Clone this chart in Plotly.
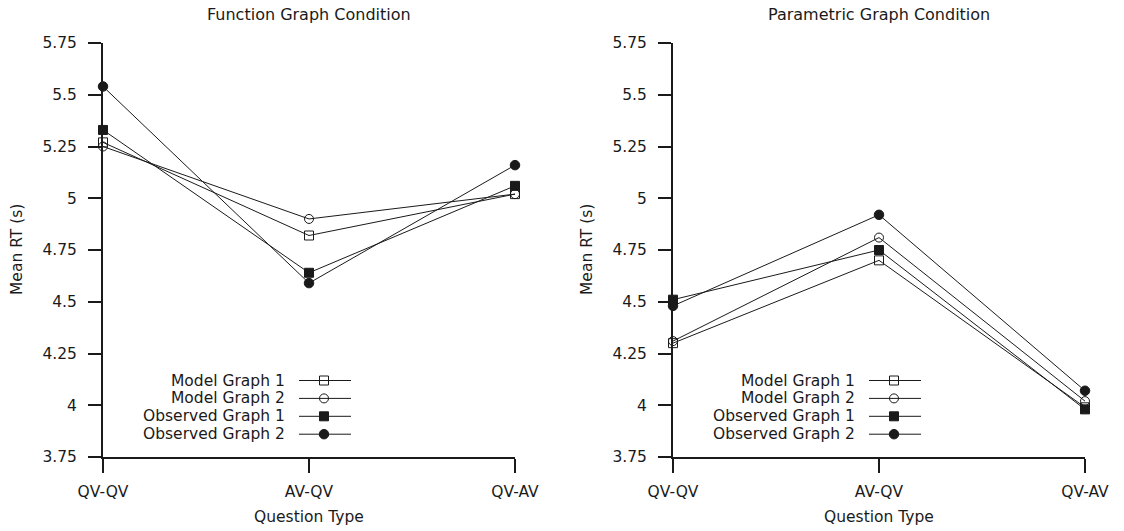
import plotly.graph_objects as go

# ---------------- data ----------------
categories = ["QV-QV", "AV-QV", "QV-AV"]
series_names = ["Model Graph 1", "Model Graph 2", "Observed Graph 1", "Observed Graph 2"]

function_model_1 = [5.27, 4.82, 5.02]
function_model_2 = [5.25, 4.90, 5.02]
function_observed_1 = [5.33, 4.64, 5.06]
function_observed_2 = [5.54, 4.59, 5.16]

parametric_model_1 = [4.30, 4.70, 3.99]
parametric_model_2 = [4.31, 4.81, 4.02]
parametric_observed_1 = [4.51, 4.75, 3.98]
parametric_observed_2 = [4.48, 4.92, 4.07]

y_tick_values = [3.75, 4, 4.25, 4.5, 4.75, 5, 5.25, 5.5, 5.75]
y_tick_labels = ["3.75", "4", "4.25", "4.5", "4.75", "5", "5.25", "5.5", "5.75"]
panel_titles = ["Function Graph Condition", "Parametric Graph Condition"]
x_title = "Question Type"
y_title = "Mean RT (s)"

# ---------------- style ----------------
W, H = 1124, 531
FONT = "DejaVu Sans"
INK = "#1a1a1a"
symbols = ["square-open", "circle-open", "square", "circle"]
fills = ["rgba(0,0,0,0)", "rgba(0,0,0,0)", INK, INK]
sizes = [9, 9, 9, 9.5]

# plot-area pixel geometry
panels_px = [(103, 515), (673, 1085)]
top_px, bottom_px = 43, 457


def fx(p):
    return p / W


def fy(p):
    return 1 - p / H


fig = go.Figure()

panel_data = [
    [function_model_1, function_model_2, function_observed_1, function_observed_2],
    [parametric_model_1, parametric_model_2, parametric_observed_1, parametric_observed_2],
]

for pi, series in enumerate(panel_data):
    xa = "x" if pi == 0 else "x2"
    ya = "y" if pi == 0 else "y2"
    for si, vals in enumerate(series):
        fig.add_trace(go.Scatter(
            x=categories, y=vals, name=series_names[si],
            mode="lines+markers", xaxis=xa, yaxis=ya,
            line=dict(color=INK, width=1),
            marker=dict(symbol=symbols[si], size=sizes[si], color=INK,
                        line=dict(color=INK, width=1)),
            cliponaxis=False, showlegend=False,
        ))

axis_common = dict(showline=True, linecolor=INK, linewidth=2, ticks="outside",
                   tickcolor=INK, tickwidth=2, showgrid=False, zeroline=False,
                   tickfont=dict(family=FONT, size=15.5, color=INK), automargin=False)

layout = dict(
    width=W, height=H, margin=dict(l=0, r=0, t=0, b=0),
    paper_bgcolor="white", plot_bgcolor="white", showlegend=False,
    font=dict(family=FONT, color=INK),
)
for pi, (l, r) in enumerate(panels_px):
    sfx = "" if pi == 0 else str(pi + 1)
    layout["xaxis" + sfx] = dict(axis_common, domain=[fx(l), fx(r)], type="category",
                                 categoryorder="array", categoryarray=categories,
                                 range=[0, 2], ticklen=14, ticklabelstandoff=5,
                                 anchor="y" + sfx)
    layout["yaxis" + sfx] = dict(axis_common, domain=[fy(bottom_px), fy(top_px)],
                                 range=[3.75, 5.75], tickmode="array",
                                 tickvals=y_tick_values, ticktext=y_tick_labels,
                                 ticklen=13, ticklabelstandoff=8,
                                 anchor="x" + sfx)
fig.update_layout(**layout)

annotations = []
shapes = []
for pi, (l, r) in enumerate(panels_px):
    # titles
    annotations.append(dict(text=panel_titles[pi], x=fx((l + r) / 2), y=fy(15), xref="paper",
                            yref="paper", showarrow=False, xanchor="center", yanchor="middle",
                            font=dict(family=FONT, size=16, color=INK)))
    annotations.append(dict(text=x_title, x=fx((l + r) / 2), y=fy(517), xref="paper",
                            yref="paper", showarrow=False, xanchor="center", yanchor="middle",
                            font=dict(family=FONT, size=15.5, color=INK)))
    annotations.append(dict(text=y_title, x=fx(l - 86), y=fy((top_px + bottom_px) / 2),
                            xref="paper", yref="paper", showarrow=False, textangle=-90,
                            xanchor="center", yanchor="middle",
                            font=dict(family=FONT, size=15.5, color=INK)))
    # legend
    for si, name in enumerate(series_names):
        ry = 380.5 + si * 17.9
        annotations.append(dict(text=name, x=fx(l + 184), y=fy(ry), xref="paper", yref="paper",
                                showarrow=False, xanchor="right", yanchor="middle",
                                font=dict(family=FONT, size=15.5, color=INK)))
        shapes.append(dict(type="line", xref="paper", yref="paper",
                           x0=fx(l + 196), x1=fx(l + 248), y0=fy(ry), y1=fy(ry),
                           line=dict(color=INK, width=1)))
        half = sizes[si] / 2
        shapes.append(dict(type="rect" if symbols[si].startswith("square") else "circle",
                           xref="paper", yref="paper", xsizemode="pixel", ysizemode="pixel",
                           xanchor=fx(l + 221), yanchor=fy(ry),
                           x0=-half, x1=half, y0=-half, y1=half,
                           fillcolor=fills[si], line=dict(color=INK, width=1)))

fig.update_layout(annotations=annotations, shapes=shapes)
fig.write_html("out.html")
